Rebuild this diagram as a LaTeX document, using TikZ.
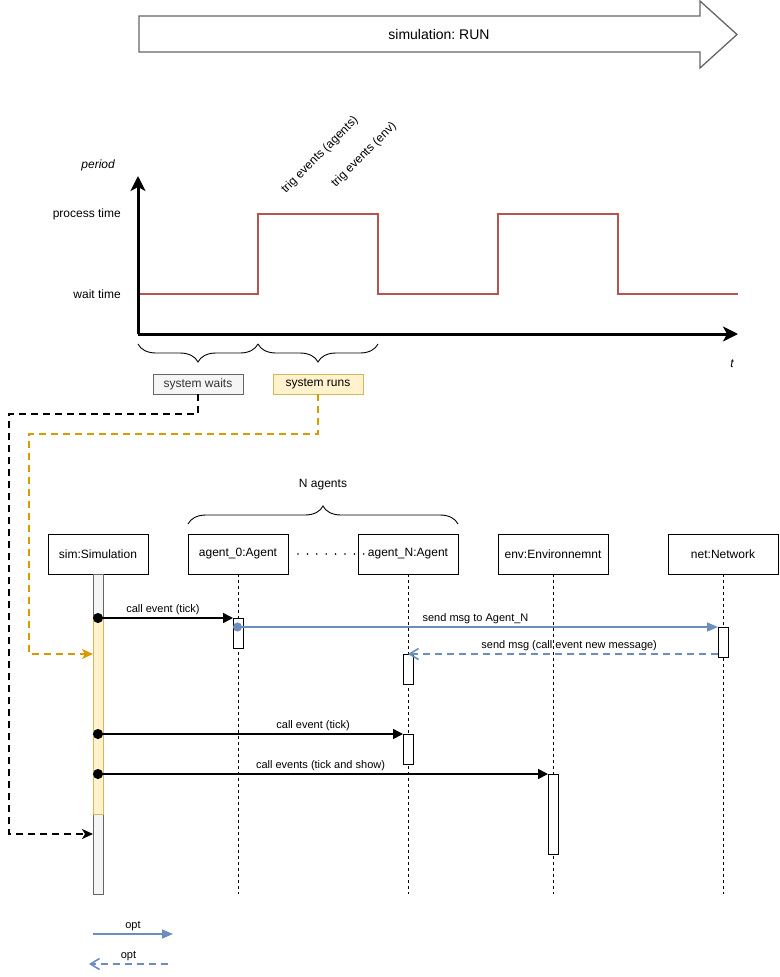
\documentclass[tikz,border=0pt]{standalone}
\usepackage{fontspec}
\setmainfont{Liberation Sans}
\frenchspacing
\usepackage{xcolor}
\definecolor{lineBlue}{HTML}{6C8EBF}
\definecolor{linkOrange}{HTML}{D79B00}
\definecolor{signalRed}{HTML}{B85450}
\definecolor{idleGray}{HTML}{F5F5F5}
\definecolor{frameGray}{HTML}{666666}
\definecolor{runYellow}{HTML}{FFF2CC}
\definecolor{runBorder}{HTML}{D6B656}
\definecolor{darkText}{HTML}{333333}
\usepackage{tikz}
\usetikzlibrary{
    arrows.meta,
    positioning,
    decorations.pathreplacing
}
\tikzset{
    % Base text for labels and headers
    base text/.style={
        font=\fontsize{12}{14}\selectfont,
        text=black,
    },
    % Smaller text for message labels
    small text/.style={
        font=\fontsize{11}{13}\selectfont,
        text=black,
    },
    % Big banner text
    banner text/.style={
        font=\fontsize{14}{17}\selectfont,
        text=black,
    },
    % Outline of the banner arrow
    run outline/.style={
        draw=frameGray,
        line width=1.3pt,
        fill=white,
        line join=miter,
    },
    % Axis lines of the chart
    axis/.style={
        -{Stealth[length=15pt, width=15pt, inset=4pt]},
        line width=3pt,
        draw=black,
    },
    % Red signal curve
    signal/.style={
        draw=signalRed,
        line width=1.8pt,
        line join=miter,
    },
    % Chart axis labels
    chart label/.style={
        base text,
        anchor=east,
        inner sep=0pt,
    },
    % Braces below the time axis
    brace down/.style={
        decorate,
        decoration={brace, mirror, amplitude=18pt},
        line width=0.9pt,
    },
    % Brace above the agents
    brace up/.style={
        decorate,
        decoration={brace, amplitude=18pt},
        line width=0.9pt,
    },
    % State boxes
    state idle/.style={
        base text,
        rectangle,
        draw=frameGray,
        fill=idleGray,
        text=darkText,
        line width=0.8pt,
        minimum width=90pt,
        minimum height=20pt,
        inner sep=0pt,
    },
    state run/.style={
        state idle,
        draw=runBorder,
        fill=runYellow,
        text=black,
    },
    % Lifeline header boxes
    lifehead/.style={
        base text,
        rectangle,
        draw=black,
        fill=white,
        line width=1pt,
        minimum width=100pt,
        minimum height=40pt,
        inner sep=0pt,
        outer sep=0pt,
    },
    wide head/.style={
        minimum width=110pt,
    },
    % Lifeline bars and activations
    idle bar/.style={
        rectangle,
        draw=frameGray,
        fill=idleGray,
        line width=0.8pt,
        minimum width=10pt,
        inner sep=0pt,
        outer sep=0pt,
    },
    run bar/.style={
        idle bar,
        draw=runBorder,
        fill=runYellow,
    },
    activation/.style={
        rectangle,
        draw=black,
        fill=white,
        line width=1pt,
        minimum width=10pt,
        inner sep=0pt,
        outer sep=0pt,
    },
    % Dashed lifelines
    lifeline/.style={
        draw=black,
        line width=0.8pt,
        dash pattern=on 3pt off 3pt,
    },
    % Dotted gap between agents
    ellipsis dots/.style={
        draw=black,
        line width=1.8pt,
        line cap=round,
        dash pattern=on 0pt off 9.4pt,
    },
    % Synchronous call
    call/.style={
        {Circle[length=10pt]}-{Triangle[length=10pt, width=10pt]},
        draw=black,
        line width=1.6pt,
    },
    % Message sent through the network
    send/.style={
        {Circle[length=9pt]}-{Triangle[length=11pt, width=9pt]},
        draw=lineBlue,
        line width=1.6pt,
    },
    plain send/.style={
        -{Triangle[length=11pt, width=9pt]},
        draw=lineBlue,
        line width=1.6pt,
    },
    % Reply message
    reply/.style={
        -{Straight Barb[length=9pt, width=11pt]},
        draw=lineBlue,
        line width=1.6pt,
        dash pattern=on 7pt off 5pt,
    },
    % Message labels
    msg label/.style={
        small text,
        above,
        inner sep=2.5pt,
    },
    % Dashed links from the states
    wait link/.style={
        -{Stealth[length=11pt, width=10pt, inset=3pt]},
        draw=black,
        line width=1.6pt,
        dash pattern=on 7pt off 5pt,
    },
    run link/.style={
        wait link,
        draw=linkOrange,
    },
}

\begin{document}
\begin{tikzpicture}[x=1pt, y=-1pt, base text]
    \useasboundingbox (0,0) rectangle (779,977);

    \draw [run outline] (139,16) -- (700,16) -- (700,1) -- (737,34.5) -- (700,68) -- (700,52) -- (139,52) -- cycle;
    \node (run_label) [banner text] at (439,34) {simulation: RUN};

    \draw [signal] (138,294) -- (258,294) -- (258,214) -- (378,214) -- (378,294) -- (498,294) -- (498,214) -- (618,214) -- (618,294) -- (738,294);
    \coordinate (origin) at (138,334);
    \coordinate (y_top) at (138,176);
    \coordinate (x_end) at (738,334);
    \draw [axis] (origin) -- (y_top);
    \draw [axis] (origin) -- (x_end);

    \node (period) [chart label] at (115,165) {\itshape period};
    \node (process_time) [chart label] at (121,214) {process time};
    \node (wait_time) [chart label] at (121,294) {wait time};
    \node (t_label) at (732,364) {\itshape t};
    \node (trig_agents) [rotate=45] at (320,155) {trig events (agents)};
    \node (trig_env) [rotate=45] at (364,155) {trig events (env)};

    \coordinate (wait_start) at (138,344);
    \coordinate (wait_end) at (258,344);
    \coordinate (run_end) at (378,344);
    \draw [brace down] (wait_start) -- (wait_end);
    \draw [brace down] (wait_end) -- (run_end);
    \node (sys_wait) [state idle] at (198,384) {system waits};
    \node (sys_run) [state run] at (318,384) {system runs};

    \node (sim) [lifehead] at (98,554) {sim:Simulation};
    \node (agent_0) [lifehead, right=40pt of sim] {agent\_0:Agent};
    \node (agent_N) [lifehead, right=70pt of agent_0] {agent\_N:Agent};
    \node (env) [lifehead, wide head, right=40pt of agent_N] {env:Environnemnt};
    \node (net) [lifehead, wide head, right=60pt of env] {net:Network};

    \draw [brace up] ([yshift=10pt]agent_0.north west) -- ([yshift=10pt]agent_N.north east);
    \node (n_agents) at (323,485) {N agents};
    \draw [ellipsis dots] ([xshift=10pt]agent_0.east) -- ([xshift=6pt]agent_N.west);

    \node (sim_bar) [idle bar, minimum height=320pt, below=0pt of sim] {};
    \node (sim_run) [run bar, minimum height=196pt, anchor=north] at (98,618) {};

    \draw [lifeline] (agent_0.south) -- (agent_0.south |- sim_bar.south);
    \draw [lifeline] (agent_N.south) -- (agent_N.south |- sim_bar.south);
    \draw [lifeline] (env.south) -- (env.south |- sim_bar.south);
    \draw [lifeline] (net.south) -- (net.south |- sim_bar.south);

    \node (act_a0) [activation, minimum height=30pt, anchor=north] at (238,618) {};
    \node (act_net) [activation, minimum height=30pt, anchor=north] at (723,627) {};
    \node (act_aN_msg) [activation, minimum height=30pt, anchor=north] at (408,654) {};
    \node (act_aN_tick) [activation, minimum height=30pt, anchor=north] at (408,734) {};
    \node (act_env) [activation, minimum height=80pt, anchor=north] at (553,774) {};

    \draw [call] (sim_run.west |- act_a0.north) -- (act_a0.north west) node [msg label, midway] {call event (tick)};
    \draw [send] (act_a0.west |- act_net.north) -- (act_net.north west) node [msg label, midway] {send msg to Agent\_N};
    \draw [reply] (act_net.west |- act_aN_msg.north) -- (act_aN_msg.north) node [msg label, pos=0.48] {send msg (call event new message)};
    \draw [call] (sim_run.west |- act_aN_tick.north) -- (act_aN_tick.north west) node [msg label, pos=0.71] {call event (tick)};
    \draw [call] (sim_run.west |- act_env.north) -- (act_env.north west) node [msg label, midway] {call events (tick and show)};

    \coordinate (idle_in) at (93,834);
    \coordinate (run_in) at (93,654);
    \draw [wait link] (sys_wait.south) |- (9,414) |- (idle_in);
    \draw [run link] (sys_run.south) |- (29,434) |- (run_in);

    \coordinate (legend_send_a) at (93,934);
    \coordinate (legend_send_b) at (173,934);
    \coordinate (legend_reply_a) at (168,964);
    \coordinate (legend_reply_b) at (89,964);
    \draw [plain send] (legend_send_a) -- (legend_send_b) node [msg label, midway] {opt};
    \draw [reply] (legend_reply_a) -- (legend_reply_b) node [msg label, midway] {opt};
\end{tikzpicture}
\end{document}
